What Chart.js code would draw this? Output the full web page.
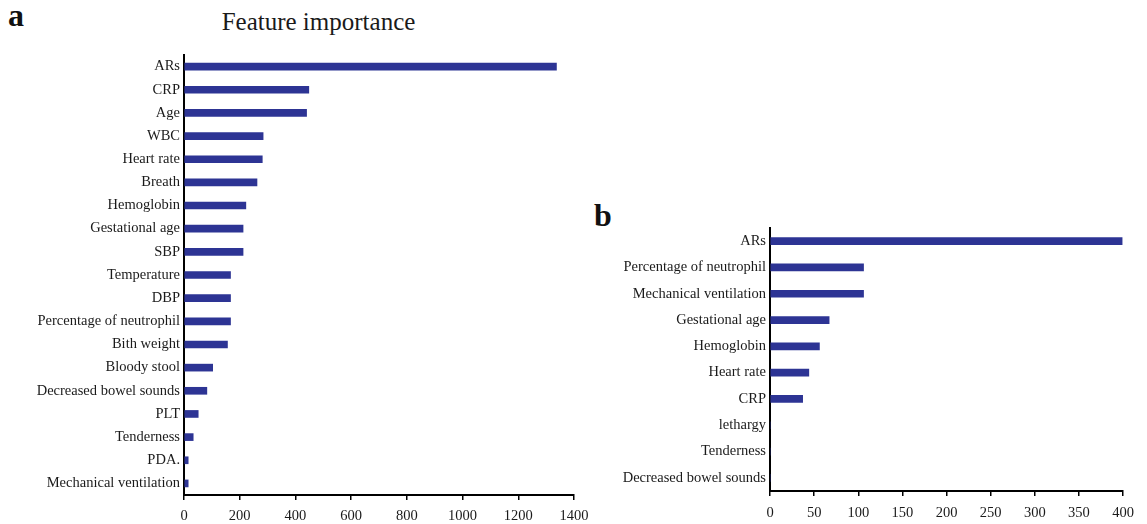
<!DOCTYPE html>
<html>
<head>
<meta charset="utf-8">
<script src="https://cdn.jsdelivr.net/npm/chart.js@4"></script>
<style>
  body { margin: 0; background: #fff; width: 1147px; height: 524px; position: relative; overflow: hidden; }
  .panel { position: absolute; }
  .tag { position: absolute; font: bold 32px "Liberation Serif", "Times New Roman", serif; line-height: 1; color: #111; }
  .title { position: absolute; left: 0; top: 7px; width: 637px; text-align: center;
           font: 25px/30px "Liberation Serif", "Times New Roman", serif; color: #1a1a1a; }
</style>
</head>
<body>
<div class="tag" style="left:8px; top:-1px;">a</div>
<div class="title">Feature importance</div>
<div class="tag" style="left:594px; top:199px;">b</div>
<div class="panel" style="left:0; top:0; width:636px; height:524px;"><canvas id="chartA"></canvas></div>
<div class="panel" style="left:590px; top:190px; width:557px; height:334px;"><canvas id="chartB"></canvas></div>
<script>
// Panel a
const labelsA = ['ARs', 'CRP', 'Age', 'WBC', 'Heart rate', 'Breath', 'Hemoglobin', 'Gestational age', 'SBP',
  'Temperature', 'DBP', 'Percentage of neutrophil', 'Bith weight', 'Bloody stool', 'Decreased bowel sounds',
  'PLT', 'Tenderness', 'PDA.', 'Mechanical ventilation'];
const valuesA = [1337, 448, 440, 284, 281, 262, 222, 212, 212, 167, 167, 167, 156, 103, 82, 51, 33, 15, 15];
const ticksA = { min: 0, max: 1400, step: 200 };

// Panel b
const labelsB = ['ARs', 'Percentage of neutrophil', 'Mechanical ventilation', 'Gestational age', 'Hemoglobin',
  'Heart rate', 'CRP', 'lethargy', 'Tenderness', 'Decreased bowel sounds'];
const valuesB = [399, 106, 106, 67, 56, 44, 37, 0, 0, 0];
const ticksB = { min: 0, max: 400, step: 50 };

const barColor = '#2d3494';
Chart.defaults.font.family = '"Liberation Serif", "Times New Roman", serif';
Chart.defaults.color = '#1a1a1a';
Chart.defaults.animation = false;

function makeChart(id, labels, values, t, opts) {
  return new Chart(document.getElementById(id), {
    type: 'bar',
    data: {
      labels: labels,
      datasets: [{
        data: values,
        backgroundColor: barColor,
        barThickness: 7,
        borderWidth: 0
      }]
    },
    options: {
      indexAxis: 'y',
      responsive: true,
      maintainAspectRatio: false,
      layout: { padding: opts.padding },
      plugins: {
        legend: { display: false },
        tooltip: { enabled: false }
      },
      scales: {
        x: {
          min: t.min,
          max: t.max,
          ticks: {
            stepSize: t.step,
            font: { size: 14.5 },
            padding: opts.xPad,
            color: '#1a1a1a',
            callback: v => String(v)
          },
          grid: { drawOnChartArea: false, drawTicks: true, tickLength: 5, color: '#000', lineWidth: 1.5 },
          border: { display: true, color: '#000', width: 2 },
          afterFit: s => { s.height = opts.xHeight; }
        },
        y: {
          ticks: { font: { size: 14.5 }, padding: 4, color: '#1a1a1a', autoSkip: false },
          grid: { drawOnChartArea: false, drawTicks: false },
          border: { display: true, color: '#000', width: 2 },
          afterFit: s => { s.width = opts.yWidth; }
        }
      }
    }
  });
}

makeChart('chartA', labelsA, valuesA, ticksA, {
  padding: { top: 55, right: 62, left: 0, bottom: 0 },
  xHeight: 29,
  xPad: 7,
  yWidth: 184
});

makeChart('chartB', labelsB, valuesB, ticksB, {
  padding: { top: 38, right: 24, left: 0, bottom: 0 },
  xHeight: 33,
  xPad: 8,
  yWidth: 180
});
</script>
</body>
</html>
